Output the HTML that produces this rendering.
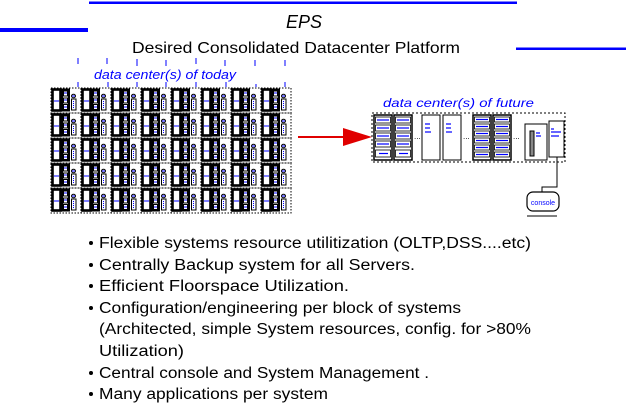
<!DOCTYPE html>
<html><head><meta charset="utf-8"><style>
html,body{margin:0;padding:0;background:#fff;width:629px;height:405px;overflow:hidden}
svg{display:block}
text{font-family:"Liberation Sans",Arial,sans-serif}
</style></head><body>
<svg width="629" height="405" viewBox="0 0 629 405" xmlns="http://www.w3.org/2000/svg">
<defs>
<g id="grp">
  <rect x="0" y="0" width="30" height="25" fill="none" stroke="#000" stroke-width="1" stroke-dasharray="1.5,1.5"/>
  <rect x="1.5" y="1.5" width="8" height="21" fill="#fff" stroke="#000" stroke-width="2.6"/>
  <line x1="3" y1="13" x2="8" y2="13" stroke="#00f" stroke-width="1"/>
  <rect x="11" y="1.5" width="7" height="21" fill="#fff" stroke="#000" stroke-width="2"/>
  <rect x="12.5" y="3" width="4" height="5" fill="none" stroke="#000" stroke-width="1"/>
  <rect x="12.5" y="10" width="4" height="5" fill="none" stroke="#000" stroke-width="1"/>
  <rect x="12.5" y="16.5" width="4" height="5" fill="none" stroke="#000" stroke-width="1"/>
  <line x1="13" y1="5" x2="16" y2="5" stroke="#00f"/>
  <line x1="13" y1="12" x2="16" y2="12" stroke="#00f"/>
  <line x1="13" y1="19" x2="16" y2="19" stroke="#00f"/>
  <ellipse cx="22.5" cy="8" rx="2" ry="1.8" fill="#fff" stroke="#000" stroke-width="1"/>
  <line x1="21" y1="8" x2="24" y2="8" stroke="#00f"/>
  <rect x="20.5" y="11" width="4.5" height="11" fill="#fff" stroke="#000" stroke-width="1"/>
  <line x1="22.5" y1="13" x2="22.5" y2="20" stroke="#00f" stroke-dasharray="1,1"/>
</g>
<g id="row">
  <use href="#grp" x="0"/><use href="#grp" x="30"/><use href="#grp" x="60"/><use href="#grp" x="90"/>
  <use href="#grp" x="120"/><use href="#grp" x="150"/><use href="#grp" x="180"/><use href="#grp" x="210"/>
</g>
</defs>

<rect x="89" y="1.5" width="428" height="2.5" fill="#00f"/>
<rect x="0" y="28" width="88" height="4" fill="#00f"/>
<rect x="516" y="47.5" width="110" height="2.5" fill="#00f"/>

<text x="304" y="28" font-size="18" font-style="italic" text-anchor="middle">EPS</text>
<text x="132" y="53" font-size="16" textLength="328" lengthAdjust="spacingAndGlyphs">Desired Consolidated Datacenter Platform</text>

<g stroke="#00f" stroke-width="1">
  <line x1="78" y1="58" x2="78" y2="64"/><line x1="107" y1="58" x2="107" y2="64"/>
  <line x1="137" y1="59" x2="137" y2="66"/><line x1="166" y1="60" x2="166" y2="66"/>
  <line x1="196" y1="58" x2="196" y2="64"/><line x1="225" y1="60" x2="225" y2="66"/>
  <line x1="255" y1="60" x2="255" y2="66"/><line x1="285" y1="60" x2="285" y2="66"/>
  <line x1="78" y1="82" x2="78" y2="87"/><line x1="108" y1="82" x2="108" y2="87"/>
  <line x1="137" y1="82" x2="137" y2="87"/><line x1="166" y1="82" x2="166" y2="87"/>
  <line x1="196" y1="82" x2="196" y2="87"/><line x1="226" y1="82" x2="226" y2="87"/>
  <line x1="256" y1="84" x2="256" y2="87"/><line x1="285" y1="82" x2="285" y2="87"/>
</g>
<text x="94" y="79" font-size="13" font-style="italic" fill="#00f" textLength="142" lengthAdjust="spacingAndGlyphs">data center(s) of today</text>

<g transform="translate(51,88)">
  <use href="#row" y="0"/><use href="#row" y="25"/><use href="#row" y="50"/><use href="#row" y="75"/><use href="#row" y="100"/>
</g>

<line x1="298" y1="137" x2="345" y2="137" stroke="#e00000" stroke-width="2"/>
<polygon points="343,128 372,137 343,146" fill="#e00000"/>

<text x="383" y="107" font-size="12" font-style="italic" fill="#00f" textLength="151" lengthAdjust="spacingAndGlyphs">data center(s) of future</text>
<rect x="372" y="113" width="193" height="49" fill="none" stroke="#000" stroke-width="1" stroke-dasharray="2,2"/>
<g stroke="#000" fill="#fff">
  <rect x="374" y="115" width="18" height="45" stroke-width="1.5"/>
  <rect x="394" y="115" width="18" height="45" stroke-width="1.5"/>
  <rect x="422" y="115" width="18" height="45"/>
  <rect x="443" y="115" width="18" height="45"/>
  <rect x="473" y="115" width="18" height="45" stroke-width="1.5"/>
  <rect x="493" y="115" width="18" height="45" stroke-width="1.5"/>
  <rect x="525" y="124" width="22" height="36"/>
  <rect x="549" y="121" width="15" height="36"/>
  <rect x="530" y="131" width="4" height="25" fill="#888"/>
</g>
<g stroke="#000" fill="#fff" stroke-width="0.8">
  <rect x="375.5" y="117" width="15" height="6"/><rect x="375.5" y="125" width="15" height="6"/><rect x="375.5" y="133" width="15" height="6"/><rect x="375.5" y="141" width="15" height="6"/><rect x="375.5" y="150" width="15" height="7"/>
  <rect x="395.5" y="117" width="15" height="6"/><rect x="395.5" y="125" width="15" height="6"/><rect x="395.5" y="133" width="15" height="6"/><rect x="395.5" y="141" width="15" height="6"/><rect x="395.5" y="150" width="15" height="7"/>
  <rect x="474.5" y="117" width="15" height="5"/><rect x="474.5" y="124" width="15" height="5"/><rect x="474.5" y="131" width="15" height="5"/><rect x="474.5" y="138" width="15" height="5"/><rect x="474.5" y="145" width="15" height="5"/><rect x="474.5" y="152" width="15" height="5"/>
  <rect x="494.5" y="117" width="15" height="5"/><rect x="494.5" y="124" width="15" height="5"/><rect x="494.5" y="131" width="15" height="5"/><rect x="494.5" y="138" width="15" height="5"/><rect x="494.5" y="145" width="15" height="5"/><rect x="494.5" y="152" width="15" height="5"/>
</g>
<g stroke="#00f" stroke-width="1.2">
  <line x1="377" y1="120" x2="389" y2="120"/><line x1="377" y1="128" x2="389" y2="128"/><line x1="377" y1="136" x2="389" y2="136"/><line x1="377" y1="144" x2="389" y2="144"/><line x1="379" y1="153.5" x2="388" y2="153.5"/>
  <line x1="397" y1="120" x2="409" y2="120"/><line x1="397" y1="128" x2="409" y2="128"/><line x1="397" y1="136" x2="409" y2="136"/><line x1="397" y1="144" x2="409" y2="144"/><line x1="399" y1="153.5" x2="408" y2="153.5"/>
  <line x1="476" y1="119.5" x2="488" y2="119.5"/><line x1="476" y1="126.5" x2="488" y2="126.5"/><line x1="476" y1="133.5" x2="488" y2="133.5"/><line x1="476" y1="140.5" x2="488" y2="140.5"/><line x1="476" y1="147.5" x2="488" y2="147.5"/><line x1="476" y1="154.5" x2="488" y2="154.5"/>
  <line x1="496" y1="119.5" x2="508" y2="119.5"/><line x1="496" y1="126.5" x2="508" y2="126.5"/><line x1="496" y1="133.5" x2="508" y2="133.5"/><line x1="496" y1="140.5" x2="508" y2="140.5"/><line x1="496" y1="147.5" x2="508" y2="147.5"/><line x1="496" y1="154.5" x2="508" y2="154.5"/>
  <line x1="425" y1="124" x2="430" y2="124"/><line x1="425" y1="128" x2="430" y2="128"/><line x1="425" y1="132" x2="431" y2="132"/>
  <line x1="446" y1="124" x2="451" y2="124"/><line x1="446" y1="128" x2="451" y2="128"/><line x1="446" y1="132" x2="452" y2="132"/>
  <line x1="536" y1="133" x2="540" y2="133"/><line x1="536" y1="136" x2="541" y2="136"/>
  <line x1="551" y1="129" x2="554" y2="129"/><line x1="551" y1="132" x2="561" y2="132"/><line x1="551" y1="136" x2="559" y2="136"/>
</g>
<g font-size="8" fill="#000"><text x="414" y="139">...</text>
<text x="463" y="139">...</text><text x="513" y="139">...</text></g>

<polyline points="557,157 557,187 542,187 542,192" fill="none" stroke="#000" stroke-width="1"/>
<rect x="527" y="192" width="32" height="19" rx="6" fill="#fff" stroke="#000" stroke-width="1.2"/>
<text x="543" y="205" font-size="7" fill="#00f" text-anchor="middle">console</text>
<line x1="527" y1="216" x2="557" y2="216" stroke="#000" stroke-width="1"/>

<g font-size="15.5" fill="#000">
  <circle cx="91" cy="243" r="2"/><text x="99" y="248" textLength="432" lengthAdjust="spacingAndGlyphs">Flexible systems resource utilitization (OLTP,DSS....etc)</text>
  <circle cx="91" cy="265" r="2"/><text x="99" y="270" textLength="316" lengthAdjust="spacingAndGlyphs">Centrally Backup  system for all Servers.</text>
  <circle cx="91" cy="286" r="2"/><text x="99" y="291" textLength="250" lengthAdjust="spacingAndGlyphs">Efficient Floorspace Utilization.</text>
  <circle cx="91" cy="308" r="2"/><text x="99" y="313" textLength="362" lengthAdjust="spacingAndGlyphs">Configuration/engineering per block of systems</text>
  <text x="99" y="334" textLength="432" lengthAdjust="spacingAndGlyphs">(Architected, simple System resources, config. for &gt;80%</text>
  <text x="99" y="356" textLength="85" lengthAdjust="spacingAndGlyphs">Utilization)</text>
  <circle cx="91" cy="373" r="2"/><text x="99" y="378" textLength="330" lengthAdjust="spacingAndGlyphs">Central console and System Management .</text>
  <circle cx="91" cy="394" r="2"/><text x="99" y="399" textLength="229" lengthAdjust="spacingAndGlyphs">Many applications per system</text>
</g>
</svg>
</body></html>
